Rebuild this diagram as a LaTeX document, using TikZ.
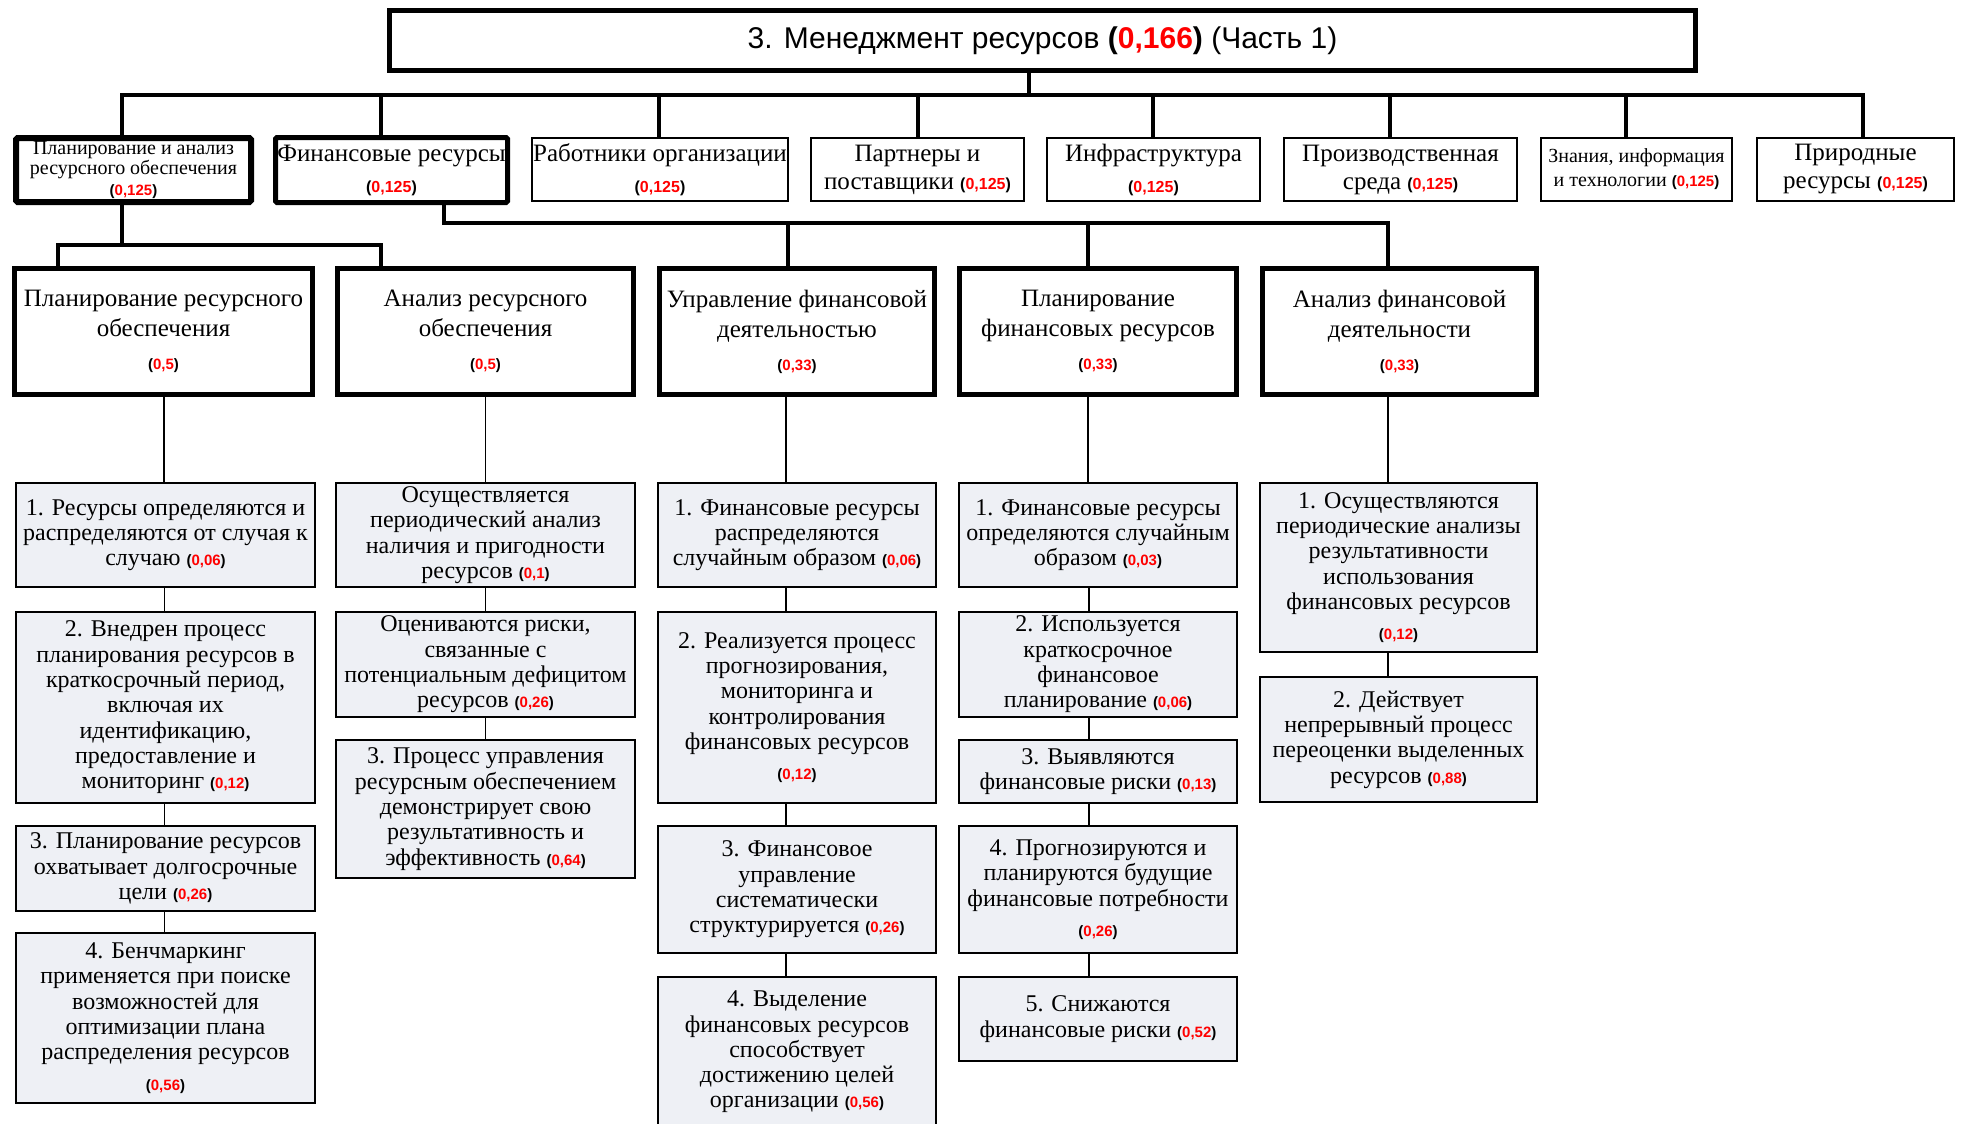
\documentclass[tikz,border=0pt]{standalone}
\usepackage{fontspec}
\setmainfont{Liberation Serif}
\newfontfamily\sansfam{Liberation Sans}
\definecolor{itemfill}{HTML}{EEF0F5}
\newcommand\wtsz{15}
\newcommand\wt[1]{{\sansfam\bfseries\fontsize{\wtsz}{\wtsz}\selectfont(\textcolor{red}{#1})}}
\tikzset{
  topbox/.style={draw, line width=5, fill=white, font=\sansfam\fontsize{30}{34}\selectfont,
    minimum width=1306, minimum height=60, inner sep=0},
  catthick/.style={draw, line width=6, rounded corners=1.5, align=center, inner sep=0,
    minimum height=64, font={\fontsize{25}{28}\selectfont\def\wtsz{16}}},
  catthin/.style={draw, line width=1.6, align=center, inner sep=0,
    minimum height=63.4, font={\fontsize{25}{28}\selectfont\def\wtsz{16}}},
  subbox/.style={draw, line width=5, align=center, inner sep=0,
    minimum height=126, font={\fontsize{25}{30}\selectfont\def\wtsz{15}}},
  item/.style={draw, line width=1.8, fill=itemfill, align=center, inner sep=0,
    font={\fontsize{24}{25.3}\selectfont\def\wtsz{15}}},
  thickline/.style={line width=4.5, line cap=rect},
  midline/.style={line width=4, line cap=rect},
  thinline/.style={line width=1.6},
}
\begin{document}
\begin{tikzpicture}[x=1pt,y=-1pt]
\useasboundingbox (0,0) rectangle (1962,1124);

% title
\node[topbox] (title) at (1042.5,40.5)
  {3. Менеджмент ресурсов \textbf{(\textcolor{red}{0,166})} (Часть 1)};

% resource categories
\node[catthick, minimum width=235, font={\fontsize{20}{20.5}\selectfont\def\wtsz{15}}] (b1) at (133.5,170)
  {Планирование и анализ\\ресурсного обеспечения\\\wt{0,125}};
\node[catthick, line width=5, minimum width=232, minimum height=65] (b2) at (391.5,170)
  {Финансовые ресурсы\\[3pt]\wt{0,125}};
\node[catthin, minimum width=256.4] (b3) at (660,169.5)
  {Работники организации\\[3pt]\wt{0,125}};
\node[catthin, minimum width=213.4] (b4) at (917.5,169.5)
  {Партнеры и\\поставщики \wt{0,125}};
\node[catthin, minimum width=213.4] (b5) at (1153.5,169.5)
  {Инфраструктура\\[3pt]\wt{0,125}};
\node[catthin, minimum width=233.4] (b6) at (1400.5,169.5)
  {Производственная\\среда \wt{0,125}};
\node[catthin, minimum width=191.4, font={\fontsize{20}{24}\selectfont\def\wtsz{15}}] (b7) at (1636.5,169.5)
  {Знания, информация\\и технологии \wt{0,125}};
\node[catthin, minimum width=197.4] (b8) at (1855.5,169.5)
  {Природные\\ресурсы \wt{0,125}};

% sub-areas
\node[subbox, minimum width=298] (A) at (163.5,331.5)
  {Планирование ресурсного\\обеспечения\\[3pt]\wt{0,5}};
\node[subbox, minimum width=296] (B) at (485.5,331.5)
  {Анализ ресурсного\\обеспечения\\[3pt]\wt{0,5}};
\node[subbox, minimum width=275] (C) at (797,331.5)
  {Управление финансовой\\деятельностью\\[3pt]\wt{0,33}};
\node[subbox, minimum width=277] (D) at (1098,331.5)
  {Планирование\\финансовых ресурсов\\[3pt]\wt{0,33}};
\node[subbox, minimum width=274] (E) at (1399.5,331.5)
  {Анализ финансовой\\деятельности\\[3pt]\wt{0,33}};

% column A
\node[item, minimum width=299.2, minimum height=104.2] (A1) at (165.5,535)
  {1. Ресурсы определяются и\\распределяются от случая к\\случаю \wt{0,06}};
\node[item, minimum width=299.2, minimum height=191.2] (A2) at (165.5,707.5)
  {2. Внедрен процесс\\планирования ресурсов в\\краткосрочный период,\\включая их\\идентификацию,\\предоставление и\\мониторинг \wt{0,12}};
\node[item, minimum width=299.2, minimum height=85.2] (A3) at (165.5,868.5)
  {3. Планирование ресурсов\\охватывает долгосрочные\\цели \wt{0,26}};
\node[item, minimum width=299.2, minimum height=170.2] (A4) at (165.5,1018)
  {4. Бенчмаркинг\\применяется при поиске\\возможностей для\\оптимизации плана\\распределения ресурсов\\[5pt]\wt{0,56}};

% column B
\node[item, minimum width=299.2, minimum height=104.2] (B1) at (485.5,535)
  {Осуществляется\\периодический анализ\\наличия и пригодности\\ресурсов \wt{0,1}};
\node[item, minimum width=299.2, minimum height=105.2] (B2) at (485.5,664.5)
  {Оцениваются риски,\\связанные с\\потенциальным дефицитом\\ресурсов \wt{0,26}};
\node[item, minimum width=299.2, minimum height=138.2] (B3) at (485.5,809)
  {3. Процесс управления\\ресурсным обеспечением\\демонстрирует свою\\результативность и\\эффективность \wt{0,64}};

% column C
\node[item, minimum width=278.2, minimum height=104.2] (C1) at (797,535)
  {1. Финансовые ресурсы\\распределяются\\случайным образом \wt{0,06}};
\node[item, minimum width=278.2, minimum height=191.2] (C2) at (797,707.5)
  {2. Реализуется процесс\\прогнозирования,\\мониторинга и\\контролирования\\финансовых ресурсов\\[5pt]\wt{0,12}};
\node[item, minimum width=278.2, minimum height=127.2] (C3) at (797,889.5)
  {3. Финансовое\\управление\\систематически\\структурируется \wt{0,26}};
\node[item, minimum width=278.2, minimum height=150.2] (C4) at (797,1052)
  {4. Выделение\\финансовых ресурсов\\способствует\\достижению целей\\организации \wt{0,56}};

% column D
\node[item, minimum width=278.2, minimum height=104.2] (D1) at (1098,535)
  {1. Финансовые ресурсы\\определяются случайным\\образом \wt{0,03}};
\node[item, minimum width=278.2, minimum height=105.2] (D2) at (1098,664.5)
  {2. Используется\\краткосрочное\\финансовое\\планирование \wt{0,06}};
\node[item, minimum width=278.2, minimum height=63.2] (D3) at (1098,771.5)
  {3. Выявляются\\финансовые риски \wt{0,13}};
\node[item, minimum width=278.2, minimum height=127.2] (D4) at (1098,889.5)
  {4. Прогнозируются и\\планируются будущие\\финансовые потребности\\[5pt]\wt{0,26}};
\node[item, minimum width=278.2, minimum height=84.2] (D5) at (1098,1019)
  {5. Снижаются\\финансовые риски \wt{0,52}};

% column E
\node[item, minimum width=277.2, minimum height=169.2] (E1) at (1398.5,567.5)
  {1. Осуществляются\\периодические анализы\\результативности\\использования\\финансовых ресурсов\\[5pt]\wt{0,12}};
\node[item, minimum width=277.2, minimum height=125.2] (E2) at (1398.5,739.5)
  {2. Действует\\непрерывный процесс\\переоценки выделенных\\ресурсов \wt{0,88}};

% main bus
\coordinate (jt) at (1029,95);
\coordinate (j1) at (122,95);
\coordinate (j2) at (381,95);
\coordinate (j3) at (659,95);
\coordinate (j4) at (918,95);
\coordinate (j5) at (1153,95);
\coordinate (j6) at (1390,95);
\coordinate (j7) at (1626,95);
\coordinate (j8) at (1863,95);
\draw[thickline] (title.south -| jt) -- (jt);
\draw[thickline] (j1) -- (j8);
\foreach \j/\b in {j1/b1, j2/b2, j3/b3, j4/b4, j5/b5, j6/b6, j7/b7, j8/b8}
  \draw[midline] (\j) -- (\b.north -| \j);

% planning and analysis branch
\coordinate (k0) at (122,245);
\coordinate (kA) at (58,245);
\coordinate (kB) at (381,245);
\draw[midline] (b1.south -| k0) -- (k0);
\draw[midline] (kA) -- (kB);
\draw[midline] (kA) -- (A.north -| kA);
\draw[midline] (kB) -- (B.north -| kB);

% financial branch
\coordinate (m0) at (444,223);
\coordinate (mC) at (788,223);
\coordinate (mD) at (1088,223);
\coordinate (mE) at (1388,223);
\draw[midline] (b2.south -| m0) -- (m0);
\draw[midline] (m0) -- (mE);
\draw[midline] (mC) -- (C.north -| mC);
\draw[midline] (mD) -- (D.north -| mD);
\draw[midline] (mE) -- (E.north -| mE);

% item chains
\foreach \u/\v/\s in {A/A1/-1.5, A1/A2/-1, A2/A3/-1, A3/A4/-1,
                      B/B1/0, B1/B2/0, B2/B3/0,
                      C/C1/-11, C1/C2/-11, C2/C3/-11, C3/C4/-11,
                      D/D1/-10, D1/D2/-9, D2/D3/-9, D3/D4/-9, D4/D5/-9,
                      E/E1/-10.5, E1/E2/-10.5}
  \draw[thinline] ([xshift=\s]\v.north |- \u.south) -- ([xshift=\s]\v.north);
\end{tikzpicture}
\end{document}
